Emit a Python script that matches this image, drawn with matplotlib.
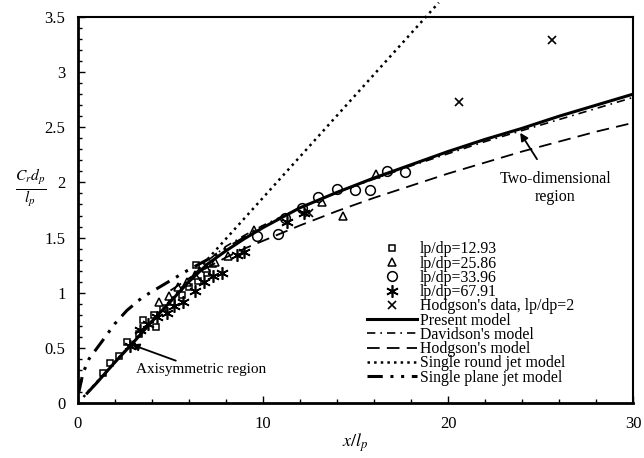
import matplotlib
matplotlib.use("Agg")
import matplotlib.pyplot as plt
from matplotlib.ticker import MultipleLocator

plt.rcParams['font.family'] = ['Liberation Serif', 'DejaVu Serif']
plt.rcParams['mathtext.fontset'] = 'stix'

# measured data
sq_x = [1.35, 1.75, 2.2, 2.65, 3.3, 3.5, 4.1, 4.2, 4.6, 5.1, 5.6, 6.0, 6.5, 6.4, 7.0, 7.3]
sq_y = [0.27, 0.36, 0.43, 0.55, 0.63, 0.75, 0.80, 0.69, 0.86, 0.92, 0.98, 1.05, 1.11, 1.25, 1.18, 1.26]

tri_x = [4.4, 4.9, 5.4, 5.9, 6.3, 6.9, 7.4, 8.1, 9.5, 13.2, 14.3, 16.1]
tri_y = [0.92, 0.97, 1.05, 1.10, 1.16, 1.22, 1.28, 1.33, 1.57, 1.82, 1.70, 2.08]

cir_x = [9.7, 10.8, 11.2, 12.1, 13.0, 14.0, 15.0, 15.8, 16.7, 17.7]
cir_y = [1.51, 1.53, 1.68, 1.77, 1.87, 1.94, 1.93, 1.93, 2.10, 2.09]

ast_x = [2.8, 3.35, 3.8, 4.3, 4.8, 5.2, 5.7, 6.3, 6.8, 7.3, 7.8, 8.6, 9.0, 11.3, 12.2]
ast_y = [0.52, 0.66, 0.72, 0.78, 0.82, 0.88, 0.92, 1.02, 1.10, 1.15, 1.18, 1.34, 1.37, 1.64, 1.72]

hod_x = [12.5, 20.6, 25.6]
hod_y = [1.72, 2.73, 3.29]

# model curves
present_x = [0.5, 1, 2, 3, 4, 5, 6, 7, 8, 9, 10, 12, 14, 16, 18, 20, 22, 24, 26, 28, 30]
present_y = [0.09, 0.18, 0.37, 0.55, 0.74, 0.92, 1.10, 1.26, 1.38, 1.49, 1.59, 1.77, 1.91, 2.04,
             2.16, 2.28, 2.39, 2.49, 2.60, 2.70, 2.80]

davidson_x = [0.5, 1, 2, 3, 4, 5, 6, 7, 8, 9, 10, 12, 14, 16, 18, 20, 22, 24, 26, 28, 30]
davidson_y = [0.09, 0.18, 0.37, 0.55, 0.74, 0.93, 1.12, 1.29, 1.42, 1.52, 1.61, 1.77, 1.91, 2.03,
              2.15, 2.26, 2.37, 2.47, 2.57, 2.67, 2.77]

hodgson_x = [5, 6, 7, 8, 9, 10, 12, 14, 16, 18, 20, 22, 24, 26, 28, 30]
hodgson_y = [1.02, 1.13, 1.23, 1.32, 1.40, 1.47, 1.61, 1.74, 1.86, 1.97, 2.08, 2.18, 2.28, 2.37, 2.46, 2.54]

round_x = [0.3, 19.5]
round_y = [0.055, 3.63]

plane_x = [0.05, 0.27, 0.6, 1.35, 2.0, 2.65, 3.5, 4.8, 5.9, 7.0, 8.0, 9.0, 10.0]
plane_y = [0.10, 0.27, 0.40, 0.57, 0.72, 0.84, 0.96, 1.09, 1.20, 1.30, 1.40, 1.50, 1.60]

fig = plt.figure(figsize=(6.44, 4.58), dpi=100)
ax = fig.add_axes([0.121, 0.120, 0.862, 0.843])

ax.plot(sq_x, sq_y, 's', mfc='white', mec='black', ms=5, mew=1.1, label='lp/dp=12.93')
ax.plot(tri_x, tri_y, '^', mfc='white', mec='black', ms=6, mew=1.1, label='lp/dp=25.86')
ax.plot(cir_x, cir_y, 'o', mfc='white', mec='black', ms=7, mew=1.1, label='lp/dp=33.96')
ax.plot(ast_x, ast_y, marker=(6, 2, 0), ls='none', color='black', ms=9, mew=1.2, label='lp/dp=67.91')
ax.plot(hod_x, hod_y, 'x', color='black', ms=6, mew=1.2, label="Hodgson's data, lp/dp=2")

ax.plot(present_x, present_y, '-', color='black', lw=2.2, label='Present model')
ax.plot(davidson_x, davidson_y, color='black', lw=1.2, dashes=(5, 3, 1, 3), label="Davidson's model")
ax.plot(hodgson_x, hodgson_y, color='black', lw=1.3, dashes=(7, 4), label="Hodgson's model")
ax.plot(round_x, round_y, ':', color='black', lw=1.8, clip_on=False, label='Single round jet model')
ax.plot(plane_x, plane_y, color='black', lw=2.2, dashes=(5, 2.5, 1, 2.5, 1, 2.5), label='Single plane jet model')

ax.set_xlim(0, 30)
ax.set_ylim(0, 3.5)
ax.xaxis.set_major_locator(MultipleLocator(10))
ax.xaxis.set_minor_locator(MultipleLocator(2))
ax.yaxis.set_minor_locator(MultipleLocator(0.1))
ax.set_yticks([0, 0.5, 1, 1.5, 2, 2.5, 3, 3.5])
ax.set_yticklabels(['0', '0.5', '1', '1.5', '2', '2.5', '3', '3.5'])
ax.tick_params(which='both', direction='in', labelsize=12, width=1)
ax.tick_params(which='major', length=5)
ax.tick_params(which='minor', length=3)
ax.tick_params(axis='y', pad=9)
ax.tick_params(axis='x', pad=9)
for s in ['left', 'bottom']:
    ax.spines[s].set_linewidth(2)
for s in ['top', 'right']:
    ax.spines[s].set_linewidth(1.5)

ax.set_xlabel(r'$x/l_p$', fontsize=13, labelpad=0)
fig.text(0.047, 0.59, r'$\frac{C_r d_p}{l_p}$', fontsize=16, ha='center', va='center')

ax.annotate('Axisymmetric region', xy=(2.9, 0.53), xytext=(3.15, 0.30),
            fontsize=11, va='center', ha='left',
            arrowprops=dict(arrowstyle='-|>', color='black', lw=1.3, shrinkA=0, shrinkB=0))
ax.annotate('Two-dimensional\nregion', xy=(23.9, 2.45), xytext=(25.8, 1.95),
            fontsize=11.5, va='center', ha='center', linespacing=1.1,
            arrowprops=dict(arrowstyle='-|>', color='black', lw=1.3, shrinkA=8, shrinkB=0))

ax.legend(loc='lower left', bbox_to_anchor=(0.52, 0.045), frameon=False, fontsize=11.4,
          labelspacing=-0.11, handlelength=3.2, handletextpad=0.15, borderpad=0, borderaxespad=0)

fig.savefig('out.png', dpi=100)
